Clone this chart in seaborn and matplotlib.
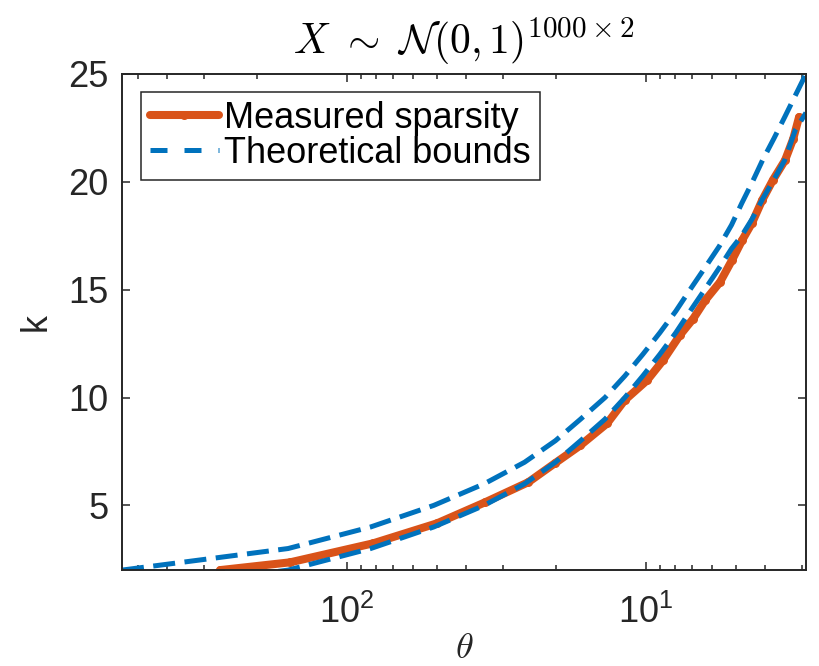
import matplotlib
matplotlib.use("Agg")
import matplotlib.pyplot as plt
from matplotlib.ticker import FixedLocator, LogLocator, NullFormatter
import pandas as pd
import seaborn as sns

# Measured sparsity k as a function of the threshold theta
theta_measured = [265.9, 155.1, 81.9, 50.0, 34.6, 24.8, 20.2, 16.6, 13.5, 11.8,
                  9.92, 8.77, 7.70, 6.96, 6.35, 5.66, 5.16, 4.77, 4.42, 4.09,
                  3.76, 3.43, 3.22, 3.08]
k_measured = [2.0, 2.36, 3.24, 4.17, 5.14, 6.07, 6.95, 7.78, 8.8, 9.87,
              10.8, 11.73, 12.9, 13.65, 14.5, 15.35, 16.37, 17.3, 18.1, 19.15,
              20.1, 21.0, 22.0, 23.0]

# Theoretical bounds: thresholds shared by the upper and lower curves
theta_bound = [566, 157.5, 83.4, 51.3, 34.8, 25.5, 20.1, 16.56, 13.72, 11.78,
               10.26, 9.0, 7.96, 7.13, 6.37, 5.70, 5.18, 4.79, 4.41, 4.08,
               3.74, 3.44, 3.17, 2.92]
k_upper = [2, 3, 4, 5, 6, 7, 8, 9, 10, 11, 12, 13, 14, 15, 16, 17, 18, 19,
           20, 21, 22, 23, 24, 25]
k_lower = [1, 2, 3, 4, 5, 6, 7, 8, 9, 10, 11, 12, 13, 14, 15, 16, 16.9, 17.5,
           18.3, 19.2, 20.1, 21.0, 22.4, 23.2]

labels = ["Measured sparsity", "Theoretical bounds"]
ORANGE = "#D95319"
BLUE = "#0072BD"
INK = "#262626"

measured = pd.DataFrame({"theta": theta_measured, "k": k_measured})
bounds = pd.concat([
    pd.DataFrame({"theta": theta_bound, "k": k_upper, "bound": "upper"}),
    pd.DataFrame({"theta": theta_bound, "k": k_lower, "bound": "lower"}),
], ignore_index=True)

sns.set_theme(style="white")
plt.rcParams["font.family"] = ["Liberation Sans", "DejaVu Sans"]
plt.rcParams["mathtext.fontset"] = "cm"

fig = plt.figure(figsize=(8.2, 6.66), dpi=100)
ax = fig.add_axes([0.1488, 0.144, 0.8341, 0.745])
ax.set_xscale("log")

sns.lineplot(data=measured, x="theta", y="k", ax=ax, color=ORANGE,
             linewidth=5.8, marker="o", markersize=6.5, markeredgewidth=0,
             sort=False, legend=False)
sns.lineplot(data=bounds, x="theta", y="k", units="bound", estimator=None,
             ax=ax, color=BLUE, linewidth=3.6, linestyle=(0, (4.4, 1.9)),
             sort=False, legend=False)

ax.set_xlim(max(theta_bound), min(theta_bound))
ax.set_ylim(2, 25)
ax.yaxis.set_major_locator(FixedLocator([5, 10, 15, 20, 25]))
ax.xaxis.set_major_locator(LogLocator(base=10))
ax.xaxis.set_minor_locator(LogLocator(base=10, subs=range(2, 10)))
ax.xaxis.set_minor_formatter(NullFormatter())

for side in ["left", "right", "top", "bottom"]:
    ax.spines[side].set_visible(True)
    ax.spines[side].set_color(INK)
    ax.spines[side].set_linewidth(1.4)

ax.tick_params(which="both", direction="in", top=True, right=True,
               bottom=True, left=True, color=INK, width=1.1)
ax.tick_params(which="major", length=5.5)
ax.tick_params(which="minor", length=3.5)
ax.tick_params(axis="y", labelsize=26, labelcolor=INK, pad=10)
ax.tick_params(axis="x", labelsize=26, labelcolor=INK, pad=18)

ax.set_xlabel(r"$\theta$", fontsize=26, color=INK, labelpad=0)
ax.set_ylabel("k", fontsize=26, color=INK, labelpad=10)
ax.set_title(r"$X\ \sim\ \mathcal{N}(0,1)^{1000\times 2}$", fontsize=30,
             color="black", pad=14)

lines = ax.get_lines()
leg = ax.legend([lines[0], lines[1]], labels, loc="upper left",
                bbox_to_anchor=(19 / 684, 1 - 18 / 496), fontsize=26,
                frameon=True, fancybox=False, framealpha=1, borderpad=0.25,
                labelspacing=0.0, handlelength=1.9, handletextpad=0.15,
                borderaxespad=0.0)
leg.get_frame().set_edgecolor(INK)
leg.get_frame().set_linewidth(1.1)
leg.get_lines()[1].set_dashes((3.4, 3.4))
for t in leg.get_texts():
    t.set_color("black")

fig.savefig("out.png", dpi=100)
